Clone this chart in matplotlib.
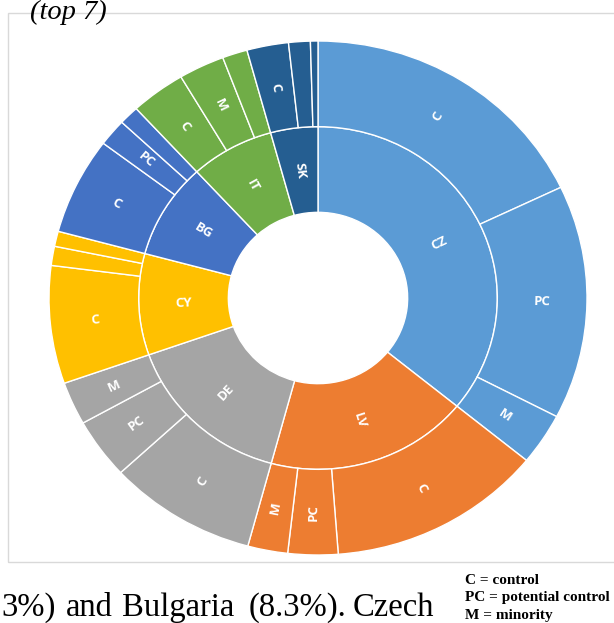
import numpy as np
import matplotlib
matplotlib.use("Agg")
import matplotlib.pyplot as plt
from matplotlib.patches import Rectangle

# countries (inner ring), clockwise from 12 o'clock
countries = ["CZ", "LV", "DE", "CY", "BG", "IT", "SK"]
colors = ["#5B9BD5", "#ED7D31", "#A5A5A5", "#FFC000", "#4472C4", "#70AD47", "#255E91"]

# sub categories (outer ring), share of total in %
sub_labels = [["C", "PC", "M"],
              ["C", "PC", "M"],
              ["C", "PC", "M"],
              ["C", "", ""],
              ["C", "PC", ""],
              ["C", "M", ""],
              ["C", "", ""]]
sub_values = [[17.9, 14.7, 3.25],
              [12.9, 3.0, 2.4],
              [8.9, 3.8, 2.7],
              [7.4, 1.2, 0.95],
              [6.1, 1.7, 1.2],
              [3.3, 2.75, 1.5],
              [2.5, 1.3, 0.45]]

country_values = [sum(v) for v in sub_values]
outer_values = [x for v in sub_values for x in v]
outer_labels = [x for v in sub_labels for x in v]
outer_colors = [c for c, v in zip(colors, sub_values) for _ in v]

W, H = 614, 623
fig = plt.figure(figsize=(W / 100, H / 100), dpi=100)

# chart centre and radii in pixels (the original is slightly stretched)
cx, cy = 318, 298
rx, ry = 269, 257
lim = 1.1
ax = fig.add_axes([(cx - lim * rx) / W, (H - cy - lim * ry) / H,
                   2 * lim * rx / W, 2 * lim * ry / H])

wp = dict(edgecolor="white", linewidth=1.0)
inner, _ = ax.pie(country_values, radius=2 / 3, colors=colors, startangle=90,
                  counterclock=False, wedgeprops=dict(width=1 / 3, **wp))
outer, _ = ax.pie(outer_values, radius=1.0, colors=outer_colors, startangle=90,
                  counterclock=False, wedgeprops=dict(width=1 / 3, **wp))
ax.set_aspect("auto")
ax.set_xlim(-lim, lim)
ax.set_ylim(-lim, lim)


def put_labels(wedges, labels, r):
    for w, lab in zip(wedges, labels):
        if not lab:
            continue
        th = (w.theta1 + w.theta2) / 2
        t = np.deg2rad(th)
        rot = th % 360
        if 90 < rot < 270:
            rot -= 180
        elif rot >= 270:
            rot -= 360
        ax.text(r * np.cos(t), r * np.sin(t), lab, color="white",
                fontsize=9.5, fontweight="bold", family="Open Sans",
                rotation=rot, rotation_mode="anchor", ha="center", va="center")


put_labels(inner, countries, 0.5)
put_labels(outer, outer_labels, 0.833)

# chart area border
fig.patches.append(Rectangle((8 / W, 1 - 562 / H), 1.0, (562 - 13) / H,
                             transform=fig.transFigure, fill=False,
                             edgecolor="#d9d9d9", linewidth=1.0))

# surrounding document text
fig.text(30 / W, 1 - 19 / H, "(top 7)", family="Liberation Serif",
         style="italic", fontsize=20.5, va="baseline", ha="left")

# justified line of body text, word by word
body_words = ["3%)", "and", "Bulgaria", "(8.3%).", "Czech"]
body_x = [1, 66, 122, 249, 353]
for word, x in zip(body_words, body_x):
    fig.text(x / W, 1 - 616 / H, word, family="Liberation Serif",
             fontsize=23.5, va="baseline", ha="left")

legend_lines = ["C = control", "PC = potential control", "M = minority"]
for i, line in enumerate(legend_lines):
    fig.text(465 / W, 1 - (584 + 17.5 * i) / H, line, family="Liberation Serif",
             fontweight="bold", fontsize=11, va="baseline", ha="left")

fig.savefig("out.png", dpi=100)
